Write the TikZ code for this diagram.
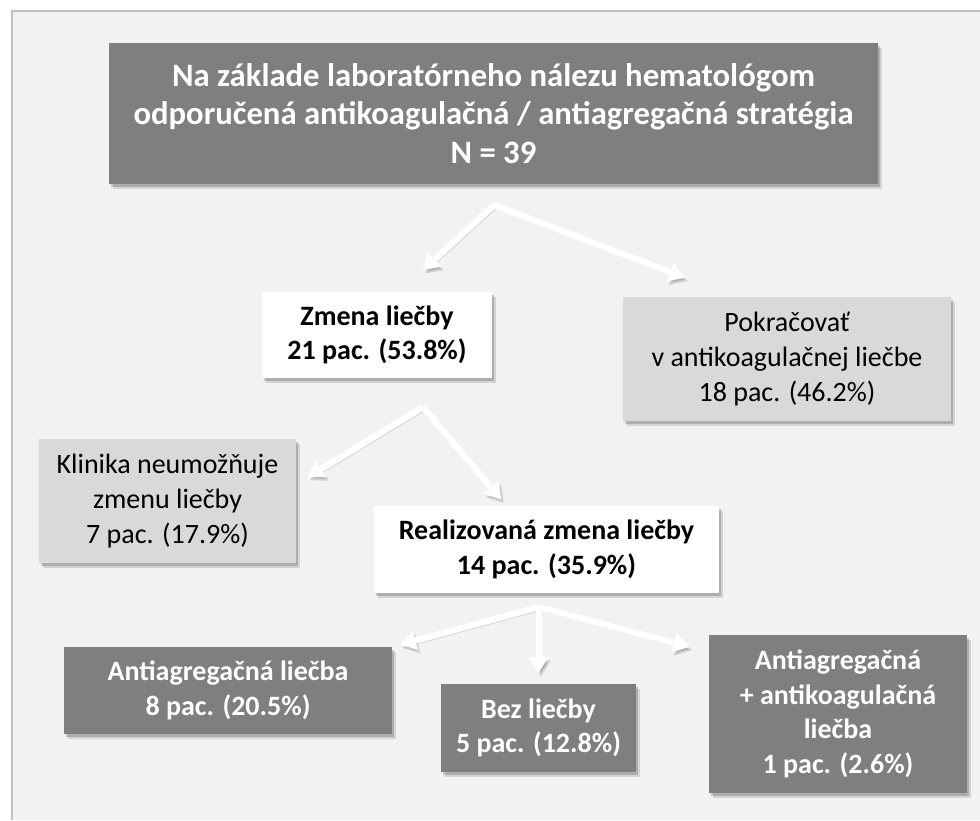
\documentclass[tikz,border=0pt]{standalone}
\usepackage{fontspec}
\setmainfont{Carlito}
\usetikzlibrary{arrows.meta,calc,shadows}
\definecolor{pagebg}{HTML}{F2F2F2}
\definecolor{framecol}{HTML}{BFBFBF}
\definecolor{darkgray}{HTML}{7F7F7F}
\definecolor{lightgray}{HTML}{D9D9D9}
\tikzset{
x=0.75pt, y=-0.75pt,
box/.style={align=center, inner sep=0pt,
  drop shadow={shadow xshift=3pt, shadow yshift=-3.5pt, opacity=0.12, fill=black},
  drop shadow={shadow xshift=1.8pt, shadow yshift=-2.2pt, opacity=0.18, fill=black}},
darkbox/.style={box, fill=darkgray, text=white, font=\fontsize{21}{26}\selectfont\bfseries},
whitebox/.style={box, fill=white, font=\fontsize{21}{26}\selectfont\bfseries},
lightbox/.style={box, fill=lightgray, font=\fontsize{21}{26}\selectfont},
arr/.style={-{Triangle[length=12pt,width=14pt]}, white, line width=4.5pt,
  preaction={draw=black, opacity=0.15, transform canvas={shift={(1.8pt,-2.5pt)}}}},
}

\begin{document}
\begin{tikzpicture}

    \useasboundingbox (0,0) rectangle (980,820);
    \fill[white] (0,0) rectangle (980,820);
    \fill[pagebg] (12,11) rectangle (980,820);
    \draw[framecol, line width=1.5pt] (12,820) -- (12,11) -- (980,11);

    \node[darkbox, minimum width=769*0.75pt, minimum height=141*0.75pt,
      font=\fontsize{24.5}{29}\selectfont\bfseries] (top) at (493.5,113.5)
      {Na základe laboratórneho nálezu hematológom\\odporučená antikoagulačná / antiagregačná stratégia\\N = 39};

    \node[whitebox, minimum width=230*0.75pt, minimum height=86*0.75pt] (zmena) at (377,335)
      {Zmena liečby\\21 pac. (53.8\%)};
    \node[lightbox, minimum width=328*0.75pt, minimum height=124*0.75pt] (pokr) at (787,359)
      {Pokračovať\\v antikoagulačnej liečbe\\18 pac. (46.2\%)};
    \node[lightbox, minimum width=257*0.75pt, minimum height=124*0.75pt] (klinika) at (167.5,501)
      {Klinika neumožňuje\\zmenu liečby\\7 pac. (17.9\%)};
    \node[whitebox, minimum width=345*0.75pt, minimum height=87*0.75pt] (realiz) at (546.5,549.5)
      {Realizovaná zmena liečby\\14 pac. (35.9\%)};
    \node[darkbox, minimum width=328*0.75pt, minimum height=87*0.75pt] (antiagr) at (228,690.5)
      {Antiagregačná liečba\\8 pac. (20.5\%)};
    \node[darkbox, minimum width=195*0.75pt, minimum height=88*0.75pt] (bez) at (538.5,728)
      {Bez liečby\\5 pac. (12.8\%)};
    \node[darkbox, minimum width=258*0.75pt, minimum height=158*0.75pt] (combo) at (838,714)
      {Antiagregačná\\+ antikoagulačná\\liečba\\1 pac. (2.6\%)};

    % fork points
    \coordinate (fork1) at (494,205);
    \coordinate (fork2) at (423,407);
    \coordinate (fork3) at (538.5,607);

    \draw[arr, shorten >=24pt] (fork1) -- ($(zmena.north)+(22,0)$);
    \draw[arr, shorten >=40pt] (fork1) -- ($(pokr.north)+(-52,0)$);
    \draw[arr, shorten >=10pt] (fork2) -- ($(klinika.east)+(0,-17)$);
    \draw[arr, shorten >=6pt] (fork2) -- ($(realiz.north)+(-40,0)$);
    \draw[arr, shorten >=6pt] (fork3) -- (antiagr.north east);
    \draw[arr, shorten >=8pt] (fork3) -- (bez.north);
    \draw[arr, shorten >=15pt] (fork3) -- ($(combo.west)+(0,-62)$);

\end{tikzpicture}
\end{document}
